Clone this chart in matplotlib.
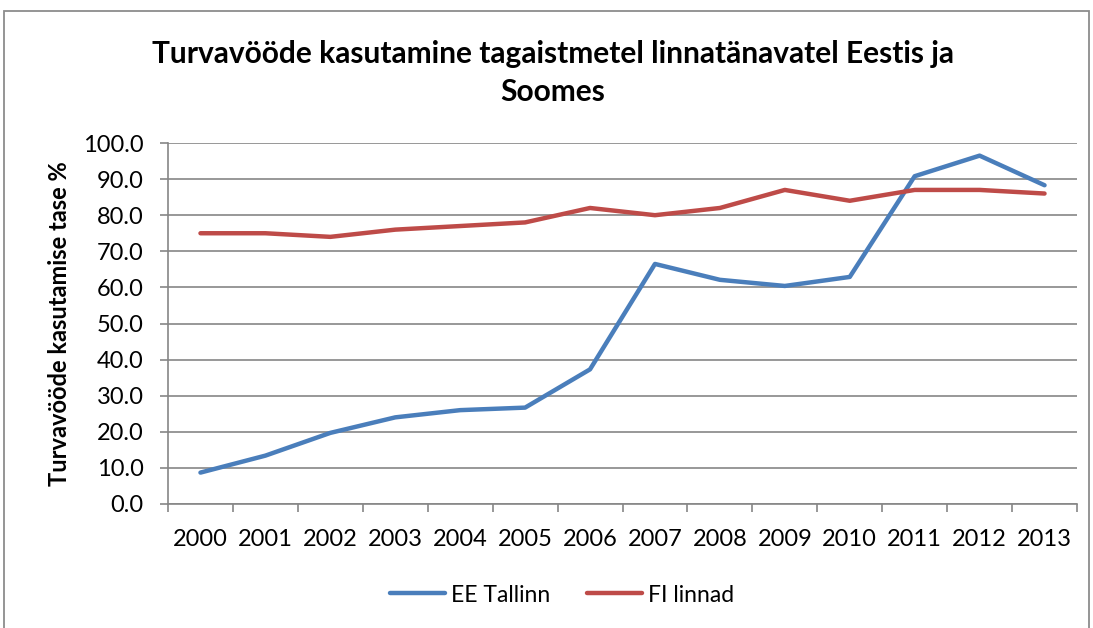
import matplotlib
matplotlib.use("Agg")
import matplotlib.pyplot as plt
from matplotlib.patches import Rectangle
import numpy as np

years = ["2000", "2001", "2002", "2003", "2004", "2005", "2006", "2007",
         "2008", "2009", "2010", "2011", "2012", "2013"]
ee_tallinn = [8.7, 13.4, 19.7, 24.0, 26.0, 26.7, 37.3, 66.5, 62.1, 60.4, 62.9, 90.8, 96.5, 88.3]
fi_linnad = [75, 75, 74, 76, 77, 78, 82, 80, 82, 87, 84, 87, 87, 86]

title = "Turvavööde kasutamine tagaistmetel linnatänavatel Eestis ja\nSoomes"
ylabel = "Turvavööde kasutamise tase %"

plt.rcParams['font.family'] = ['Lato', 'DejaVu Sans']

W, H = 1093, 628
fig = plt.figure(figsize=(W / 100, H / 100), dpi=100)
ax = fig.add_axes([168 / W, 1 - 504 / H, (1077 - 168) / W, (504 - 143) / H])

# outer chart frame
fig.patches.append(Rectangle((4 / W, -0.05), (1089 - 4) / W, (H - 11) / H + 0.05,
                             transform=fig.transFigure, fill=False,
                             edgecolor='#8c8c8c', linewidth=1.3))

x = np.arange(len(years))
ax.plot(x, ee_tallinn, color='#4A7EBB', linewidth=3.2, label='EE Tallinn',
        solid_capstyle='round', solid_joinstyle='round')
ax.plot(x, fi_linnad, color='#BE4B48', linewidth=3.2, label='FI linnad',
        solid_capstyle='round', solid_joinstyle='round')

ax.set_xlim(-0.5, len(years) - 0.5)
ax.set_ylim(0, 100)
ax.set_yticks(np.arange(0, 101, 10))
ax.set_yticklabels([f"{v:.1f}" for v in np.arange(0, 101, 10)], fontsize=17)
ax.set_xticks(x)
ax.set_xticklabels(years, fontsize=17)
ax.set_xticks(np.arange(-0.5, len(years), 1), minor=True)
ax.tick_params(axis='x', which='major', length=0, pad=18)
ax.tick_params(axis='x', which='minor', length=6, color='#868686', width=1.2)
ax.tick_params(axis='y', length=6, color='#868686', width=1.2, pad=11.5)

ax.grid(axis='y', color='#868686', linewidth=1.2)
ax.set_axisbelow(True)
for s in ['top', 'right']:
    ax.spines[s].set_visible(False)
for s in ['left', 'bottom']:
    ax.spines[s].set_color('#868686')
    ax.spines[s].set_linewidth(1.2)

ax.set_ylabel(ylabel, fontsize=17, fontweight='bold', labelpad=9)
fig.text(553 / W, 1 - 73 / H, title, ha='center', va='center', fontsize=21.5,
         fontweight='bold', linespacing=1.45)

ax.legend(loc='center', bbox_to_anchor=(562 / W, 1 - 595 / H),
          bbox_transform=fig.transFigure, ncol=2, frameon=False, fontsize=16.5,
          handlelength=2.4, columnspacing=1.6, handletextpad=0.25)

fig.savefig("out.png", dpi=100)
